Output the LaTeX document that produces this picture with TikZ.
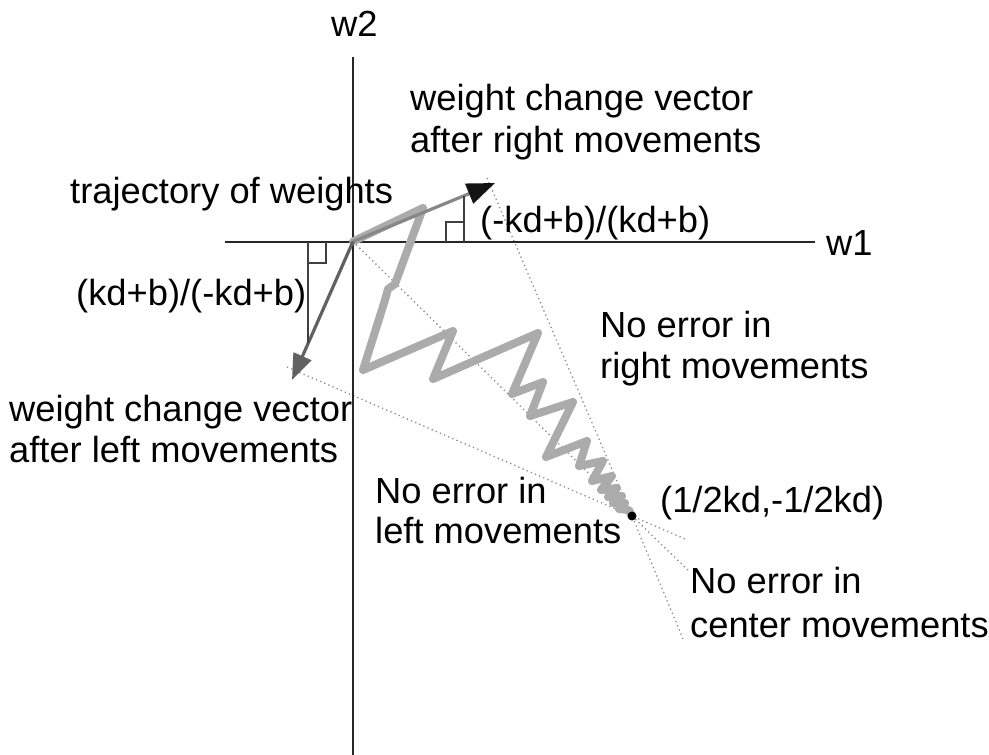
\documentclass[tikz,border=0pt]{standalone}
\usepackage{fontspec}
\setmainfont{Liberation Sans}
\usetikzlibrary{arrows.meta}
\begin{document}
\begin{tikzpicture}[x=1pt,y=-1pt,
  lbl/.style={inner sep=0pt,anchor=base west,font=\fontsize{36.3}{42}\selectfont},
  axis/.style={draw=black!85,line width=2pt},
  rmark/.style={draw=black!75,line width=1.4pt},
  guide/.style={draw=black!45,line width=1.3pt,dash pattern=on 1.3pt off 3.2pt},
  traj/.style={draw=black!33,line width=8pt,line join=round,line cap=round},
  rvec/.style={draw=black!47,line width=3.2pt,-{Triangle[length=28pt,width=21pt,color=black!92]}},
  lvec/.style={draw=black!62,line width=3.2pt,-{Triangle[length=26pt,width=19pt]}}]
\useasboundingbox (0,0) rectangle (989,755);
% key points
\coordinate (O) at (353,241.5);
\coordinate (R) at (495,183);
\coordinate (L) at (292,380);
\coordinate (Rd) at (487,178);
\coordinate (Ld) at (287,367);
\coordinate (Ec) at (632,516);
\coordinate (Ex1) at (685,539);
\coordinate (Ex2) at (690,572);
\coordinate (Ex3) at (683,639);
% guide lines
\draw[guide] (Rd) -- (Ec) -- (Ex3);
\draw[guide] (Ld) -- (Ec) -- (Ex1);
\draw[guide] (O) -- (Ec) -- (Ex2);
% axes
\coordinate (Ytop) at (353,57);
\coordinate (Ybot) at (353,755);
\coordinate (Xl) at (225,241.5);
\coordinate (Xr) at (815,241.5);
\draw[axis] (Ytop) -- (Ybot);
\draw[axis] (Xl) -- (Xr);
% trajectory
\draw[traj] (O) -- (423,208) -- (395,284) -- (388,289) -- (385,300) -- (363,370)
  -- (453,331) -- (433,379) -- (538,333) -- (512,394) -- (543,382) -- (530,416)
  -- (573,402) -- (546,457) -- (587,441) -- (579,466) -- (603,461) -- (592,481)
  -- (612,476) -- (601,490) -- (617,488) -- (608,497) -- (622,496) -- (613,503)
  -- (625,503) -- (619,509) -- (629,510) -- (Ec);
% vectors
\draw[rvec] (O) -- (R);
\draw[lvec] (O) -- (L);
% right-angle marks
\draw[rmark] (464,241.5) -- (464,196);
\draw[rmark] (446,241.5) -- (446,222) -- (464,222);
\draw[rmark] (308,241.5) -- (308,343);
\draw[rmark] (308,263) -- (326,263) -- (326,241.5);
% end point
\node[circle,fill=black,inner sep=0pt,minimum size=9pt] (E) at (Ec) {};
% labels
\node[lbl] (w2) at (331,36) {w2};
\node[lbl] (w1) at (826,255) {w1};
\node[lbl] (rv1) at (410,110) {weight change vector};
\node[lbl] (rv2) at (410,152) {after right movements};
\node[lbl] (tr) at (70,203) {trajectory of weights};
\node[lbl] (rr) at (480,232) {(-kd+b)/(kd+b)};
\node[lbl] (lr) at (76,305) {(kd+b)/(-kd+b)};
\node[lbl] (ner1) at (600,337) {No error in};
\node[lbl] (ner2) at (600,378) {right movements};
\node[lbl] (lv1) at (9,421) {weight change vector};
\node[lbl] (lv2) at (9,462) {after left movements};
\node[lbl] (nel1) at (375,503) {No error in};
\node[lbl] (nel2) at (375,543) {left movements};
\node[lbl] (pt) at (660,512) {(1/2kd,-1/2kd)};
\node[lbl] (nec1) at (690,593) {No error in};
\node[lbl] (nec2) at (690,637) {center movements};
\end{tikzpicture}
\end{document}
